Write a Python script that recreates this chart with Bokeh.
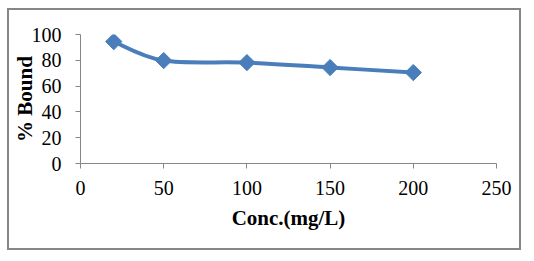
import numpy as np
from bokeh.plotting import figure
from bokeh.models import Range1d, FixedTicker, ColumnDataSource
from bokeh.embed import file_html
from bokeh.resources import INLINE

conc = [20, 50, 100, 150, 200]
bound = [94.5, 79.8, 78.2, 74.4, 70.5]
x_ticks = [0, 50, 100, 150, 200, 250]
y_ticks = [0, 20, 40, 60, 80, 100]

BLUE = "#4A7EBB"
GRAY = "#868686"
FONT = "Liberation Serif"

W, H = 514, 242
p = figure(width=W, height=H, output_backend="svg", toolbar_location=None,
           x_range=Range1d(0, 250), y_range=Range1d(0, 100),
           min_border_left=69, min_border_right=27, min_border_top=24, min_border_bottom=89)
# outer chart border
p.styles = {"border": f"2px solid {GRAY}", "margin-left": "7px", "margin-top": "8px"}
p.outline_line_color = None
p.xgrid.visible = False
p.ygrid.visible = False
p.background_fill_color = "white"
p.border_fill_color = "white"

for ax in (p.xaxis[0], p.yaxis[0]):
    ax.axis_line_color = GRAY
    ax.major_tick_line_color = GRAY
    ax.minor_tick_line_color = None
    ax.major_tick_in = 0
    ax.major_tick_out = 5
    ax.major_label_text_font = FONT
    ax.major_label_text_font_size = "20px"
    ax.major_label_text_color = "black"
    ax.axis_label_text_font = FONT
    ax.axis_label_text_font_size = "21px"
    ax.axis_label_text_font_style = "bold"
    ax.axis_label_text_color = "black"

p.xaxis.ticker = FixedTicker(ticks=x_ticks)
p.yaxis.ticker = FixedTicker(ticks=y_ticks)
p.xaxis.axis_label = "Conc.(mg/L)"
p.yaxis.axis_label = "% Bound"
p.xaxis.major_label_standoff = 12
p.yaxis.major_label_standoff = 14
p.xaxis.axis_label_standoff = 8
p.yaxis.axis_label_standoff = -8

# smooth curve (Catmull-Rom style Bezier through the data points)
xs = np.array(conc, dtype=float)
ys = np.array(bound, dtype=float)
n = len(xs)
x0, y0, x1, y1, cx0, cy0, cx1, cy1 = [], [], [], [], [], [], [], []
for i in range(n - 1):
    im = max(i - 1, 0)
    ip = min(i + 2, n - 1)
    x0.append(xs[i]); y0.append(ys[i])
    x1.append(xs[i + 1]); y1.append(ys[i + 1])
    cx0.append(xs[i] + (xs[i + 1] - xs[im]) / 6)
    cy0.append(ys[i] + (ys[i + 1] - ys[im]) / 6)
    cx1.append(xs[i + 1] - (xs[ip] - xs[i]) / 6)
    cy1.append(ys[i + 1] - (ys[ip] - ys[i]) / 6)
p.bezier(x0=x0, y0=y0, x1=x1, y1=y1, cx0=cx0, cy0=cy0, cx1=cx1, cy1=cy1,
         line_color=BLUE, line_width=4)

src = ColumnDataSource(data=dict(x=conc, y=bound))
p.scatter("x", "y", source=src, marker="square", angle=np.pi / 4, size=11.5,
          fill_color=BLUE, line_color=BLUE)

open("out.html", "w").write(file_html(p, INLINE))
